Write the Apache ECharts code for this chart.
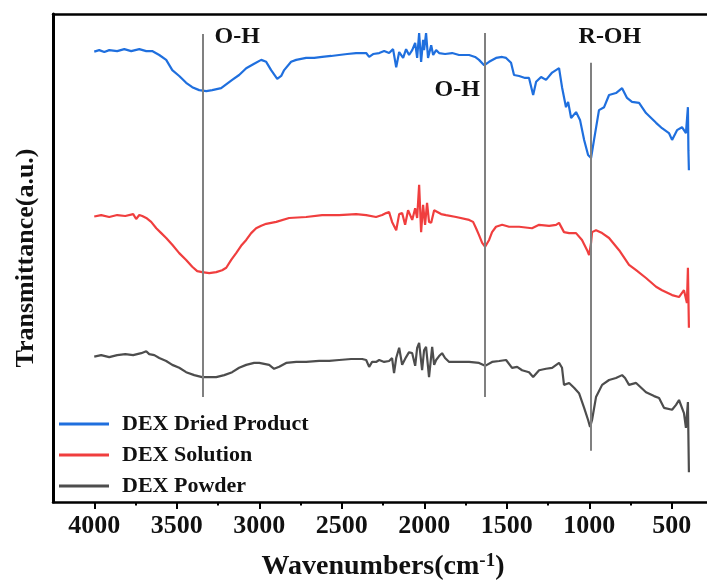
<!DOCTYPE html>
<html>
<head>
<meta charset="utf-8">
<script src="https://cdn.jsdelivr.net/npm/echarts@6/dist/echarts.min.js"></script>
<style>html,body{margin:0;padding:0;background:#fff}#c{width:707px;height:583px}</style>
</head>
<body>
<div id="c"></div>
<script>
// Wavenumber (cm-1) / transmittance (a.u.) pairs
const seriesNames = ['DEX Dried Product', 'DEX Solution', 'DEX Powder'];
const majorTicks = [500, 1000, 1500, 2000, 2500, 3000, 3500, 4000];
const minorTicks = [750, 1250, 1750, 2250, 2750, 3250, 3750];

const driedProduct = [[4000,92.3],[3970,92.6],[3939,92.2],[3909,92.6],[3861,92.4],[3818,92.8],[3776,92.4],[3727,92.8],[3685,92.4],[3649,92.4],[3606,91.6],[3564,90.6],[3527,88.5],[3485,87.3],[3443,85.9],[3406,85.0],[3364,84.4],[3321,84.2],[3285,84.4],[3231,84.8],[3164,86.5],[3122,87.5],[3079,88.9],[3031,89.8],[2988,90.6],[2958,90.2],[2928,88.5],[2891,86.7],[2867,87.3],[2849,88.5],[2807,90.2],[2776,90.6],[2716,91.0],[2667,91.0],[2619,91.2],[2564,91.4],[2516,91.6],[2467,91.8],[2413,92.0],[2352,92.0],[2334,91.2],[2310,91.8],[2273,92.0],[2243,92.4],[2213,92.0],[2189,92.8],[2170,89.1],[2152,92.2],[2128,91.0],[2110,92.8],[2092,91.6],[2073,92.6],[2055,94.1],[2043,91.0],[2031,96.1],[2019,90.2],[2007,94.7],[2001,92.6],[1989,96.1],[1977,91.0],[1971,90.6],[1958,93.6],[1946,91.6],[1928,92.6],[1910,92.0],[1874,91.8],[1831,92.0],[1789,91.6],[1728,91.6],[1692,91.2],[1668,90.6],[1637,89.5],[1607,90.2],[1565,91.0],[1528,91.2],[1504,91.0],[1474,90.0],[1456,87.5],[1425,87.3],[1389,86.9],[1365,86.9],[1340,83.4],[1322,86.1],[1292,87.1],[1262,86.5],[1225,88.0],[1183,88.9],[1171,88.5],[1165,85.0],[1141,80.9],[1128,82.0],[1110,78.7],[1080,79.9],[1056,78.3],[1031,74.2],[1007,71.1],[989,70.5],[971,74.2],[941,80.3],[910,80.9],[880,83.4],[838,83.8],[801,84.8],[771,82.8],[741,82.0],[698,81.8],[656,79.7],[595,77.7],[559,76.6],[517,75.6],[498,74.2],[468,76.2],[438,76.8],[414,75.6],[402,80.9],[399,72.0],[396,68.0]];

const solution = [[4000,58.5],[3958,58.8],[3909,58.4],[3861,58.8],[3812,58.6],[3764,59.0],[3746,58.0],[3727,58.8],[3709,58.6],[3685,58.2],[3655,57.4],[3624,56.1],[3594,55.1],[3564,54.1],[3527,52.7],[3485,51.0],[3443,49.6],[3406,48.2],[3376,47.3],[3346,47.1],[3303,46.9],[3261,47.1],[3225,47.5],[3200,48.0],[3170,49.6],[3140,51.0],[3110,52.5],[3079,53.7],[3049,55.1],[3019,56.1],[2988,56.6],[2958,57.0],[2897,57.4],[2819,58.2],[2716,58.4],[2619,58.8],[2516,58.8],[2413,59.0],[2352,58.8],[2292,58.4],[2255,58.8],[2231,59.2],[2213,59.4],[2195,57.4],[2170,55.7],[2152,59.0],[2134,59.2],[2116,56.8],[2098,59.8],[2073,57.8],[2055,60.2],[2043,58.2],[2031,65.0],[2019,55.3],[2007,60.9],[1995,56.8],[1983,61.3],[1971,57.4],[1958,57.2],[1940,59.8],[1928,59.4],[1898,59.0],[1868,58.8],[1807,58.4],[1728,57.8],[1704,57.4],[1686,56.1],[1668,54.7],[1649,53.1],[1631,52.3],[1607,53.7],[1589,55.3],[1565,56.4],[1528,56.8],[1486,56.4],[1425,56.4],[1347,56.1],[1304,56.8],[1243,56.6],[1201,56.8],[1183,57.2],[1153,55.3],[1122,55.1],[1080,55.1],[1044,53.7],[1013,51.6],[1001,50.6],[989,53.1],[983,55.3],[959,55.7],[922,55.1],[880,54.1],[819,51.6],[759,48.6],[716,47.5],[656,45.9],[595,44.1],[559,43.4],[498,42.4],[456,42.0],[426,43.4],[408,40.8],[402,48.0],[396,35.7]];

const powder = [[4000,29.8],[3958,30.1],[3909,29.7],[3861,30.1],[3812,30.3],[3764,30.1],[3715,30.5],[3685,30.9],[3667,30.3],[3636,30.1],[3606,29.5],[3564,28.9],[3527,28.1],[3485,27.5],[3443,26.6],[3394,26.0],[3346,25.6],[3303,25.6],[3261,25.6],[3212,26.0],[3164,26.6],[3122,27.5],[3079,28.1],[3031,28.5],[3000,28.5],[2970,28.3],[2940,28.1],[2910,27.3],[2879,27.7],[2837,28.5],[2776,28.7],[2716,28.7],[2637,28.9],[2576,28.9],[2516,29.1],[2443,29.3],[2376,29.3],[2352,29.1],[2334,27.7],[2316,28.7],[2292,28.7],[2273,29.1],[2243,28.7],[2213,28.9],[2195,29.5],[2183,26.4],[2170,29.5],[2152,31.6],[2134,28.1],[2110,29.7],[2092,30.7],[2073,30.5],[2055,27.9],[2043,31.6],[2031,32.6],[2013,27.0],[2001,31.1],[1989,31.8],[1971,25.6],[1952,31.8],[1940,28.1],[1928,29.1],[1910,29.9],[1892,30.5],[1874,29.5],[1849,28.7],[1789,28.7],[1728,28.7],[1668,28.5],[1631,27.9],[1589,28.7],[1546,28.9],[1504,29.1],[1468,27.5],[1437,27.7],[1407,27.0],[1365,26.6],[1340,25.6],[1304,27.0],[1262,27.3],[1225,27.5],[1183,28.5],[1165,27.5],[1153,24.0],[1122,24.4],[1092,23.4],[1062,22.3],[1031,19.3],[1007,16.8],[995,15.4],[983,16.8],[959,21.5],[922,24.0],[880,25.0],[838,25.4],[801,26.0],[783,25.4],[759,24.0],[716,24.4],[656,22.5],[607,21.7],[577,21.3],[547,19.3],[498,18.9],[474,19.9],[456,20.9],[426,18.2],[414,15.2],[402,20.5],[396,6.1]];

// Reference lines: [wavenumber, top value, bottom value]
const refLines = [[3344, 95.9, 21.5], [1631, 96.1, 21.5], [991, 90.0, 10.5]];
// Band labels: [text, wavenumber, value]
const bandLabels = [['O-H', 3134, 95.3], ['O-H', 1800, 84.4], ['R-OH', 875, 95.3]];

const colors = ['#1f6fde', '#f03e3e', '#4d4d4d'];
const FONT = "'Liberation Serif','Times New Roman',serif";

const chart = echarts.init(document.getElementById('c'), null, {renderer: 'canvas'});

const dataSets = [driedProduct, solution, powder];
const series = dataSets.map((d, i) => ({
  name: seriesNames[i],
  type: 'line',
  data: d,
  showSymbol: false,
  symbol: 'none',
  animation: false,
  lineStyle: {color: colors[i], width: 2.2},
  itemStyle: {color: colors[i]},
  z: 3
}));

series.push({
  type: 'line',
  data: [],
  silent: true,
  animation: false,
  markLine: {
    silent: true,
    symbol: ['none', 'none'],
    animation: false,
    label: {show: false},
    lineStyle: {color: '#808080', width: 2, type: 'solid'},
    data: refLines.map(r => [{coord: [r[0], r[1]]}, {coord: [r[0], r[2]]}])
  },
  markPoint: {
    silent: true,
    animation: false,
    symbol: 'circle',
    symbolSize: 0,
    label: {
      show: true,
      position: 'inside',
      formatter: p => p.name,
      color: '#111',
      fontFamily: FONT,
      fontWeight: 'bold',
      fontSize: 24
    },
    data: bandLabels.map(b => ({name: b[0], coord: [b[1], b[2]]}))
  },
  z: 2
});

const option = {
  backgroundColor: '#fff',
  animation: false,
  grid: {left: 53, right: -6, top: 14, bottom: 81, containLabel: false, outerBoundsMode: 'none'},
  legend: {
    data: seriesNames,
    orient: 'vertical',
    left: 54,
    top: 408,
    itemWidth: 50,
    itemHeight: 3,
    itemGap: 9,
    icon: 'rect',
    textStyle: {fontFamily: FONT, fontWeight: 'bold', fontSize: 22, color: '#111', padding: [0, 0, 0, 8]}
  },
  xAxis: [
    {
      type: 'value',
      inverse: true,
      min: 250,
      max: 4250,
      position: 'bottom',
      axisLine: {show: true, lineStyle: {color: '#000', width: 2.5}},
      axisTick: {show: true, length: 7, customValues: majorTicks, lineStyle: {color: '#000', width: 2}},
      axisLabel: {show: true, customValues: majorTicks, formatter: v => String(v), margin: 11, fontFamily: FONT, fontWeight: 'bold', fontSize: 26, color: '#111'},
      splitLine: {show: false},
      name: '{a|Wavenumbers(cm}{s|-1}{a|)}',
      nameLocation: 'middle',
      nameGap: 50,
      nameTextStyle: {
        rich: {
          a: {fontFamily: FONT, fontWeight: 'bold', fontSize: 28, color: '#111', lineHeight: 30},
          s: {fontFamily: FONT, fontWeight: 'bold', fontSize: 19, color: '#111', verticalAlign: 'top', lineHeight: 30, padding: [0, 0, 12, 0]}
        }
      }
    },
    {
      type: 'value',
      inverse: true,
      min: 250,
      max: 4250,
      position: 'bottom',
      axisLine: {show: false},
      axisTick: {show: true, length: 3.5, customValues: minorTicks, lineStyle: {color: '#000', width: 2}},
      axisLabel: {show: false},
      splitLine: {show: false}
    },
    {
      type: 'value',
      inverse: true,
      min: 250,
      max: 4250,
      position: 'top',
      axisLine: {show: true, lineStyle: {color: '#000', width: 2.5}},
      axisTick: {show: false},
      axisLabel: {show: false},
      splitLine: {show: false}
    }
  ],
  yAxis: {
    type: 'value',
    min: 0,
    max: 100,
    axisLine: {show: true, lineStyle: {color: '#000', width: 3}},
    axisTick: {show: false},
    axisLabel: {show: false},
    splitLine: {show: false},
    name: 'Transmittance(a.u.)',
    nameLocation: 'middle',
    nameRotate: 90,
    nameGap: 14,
    nameTextStyle: {fontFamily: FONT, fontWeight: 'bold', fontSize: 26, color: '#111'}
  },
  series: series
};

chart.setOption(option);
</script>
</body>
</html>
